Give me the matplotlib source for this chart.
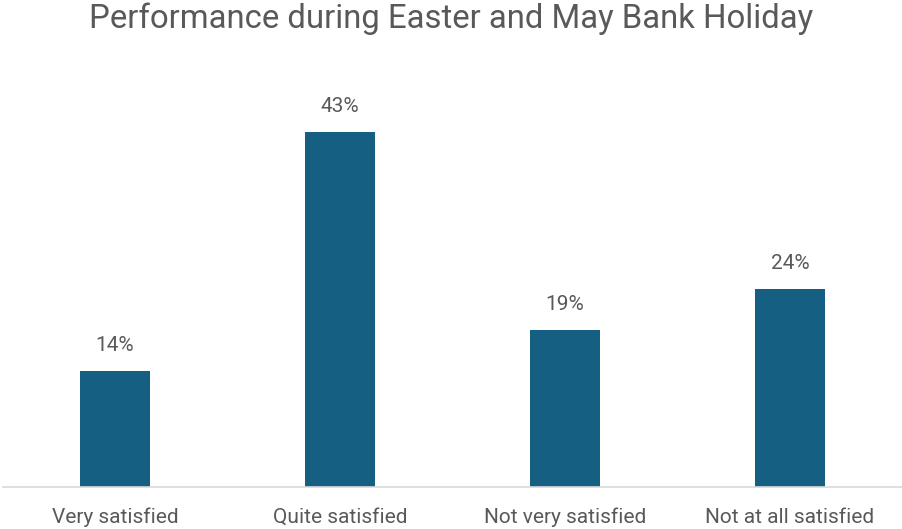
import matplotlib
matplotlib.use("Agg")
import matplotlib.pyplot as plt

categories = ["Very satisfied", "Quite satisfied", "Not very satisfied", "Not at all satisfied"]
values = [0.14, 0.43, 0.19, 0.24]
labels = ["14%", "43%", "19%", "24%"]
title = "Performance during Easter and May Bank Holiday"

bar_color = "#156082"
text_color = "#595959"

plt.rcParams["font.family"] = ["Roboto", "DejaVu Sans"]

fig = plt.figure(figsize=(9.02, 5.29), dpi=100)
W, H = 902, 529
ax = fig.add_axes([2.5 / W, (H - 487) / H, 900 / W, (487 - 74) / H])

x = range(len(categories))
ax.bar(x, values, width=0.31, color=bar_color, zorder=2)
for xi, v, lab in zip(x, values, labels):
    ax.text(xi, v + 0.031, lab, ha="center", va="center", fontsize=15, color=text_color)

ax.set_xlim(-0.5, len(categories) - 0.5)
ax.set_ylim(0, 0.5)
ax.set_xticks(list(x))
ax.set_xticklabels(categories, fontsize=15, color=text_color)
ax.tick_params(axis="x", length=0, pad=15)
ax.set_yticks([])
for side in ("top", "left", "right"):
    ax.spines[side].set_visible(False)
ax.spines["bottom"].set_color("#d9d9d9")
ax.spines["bottom"].set_linewidth(1.2)

fig.text(0.5, 1 - 19 / H, title, ha="center", va="center", fontsize=23.7, color=text_color)

fig.savefig("out.png", dpi=100)
